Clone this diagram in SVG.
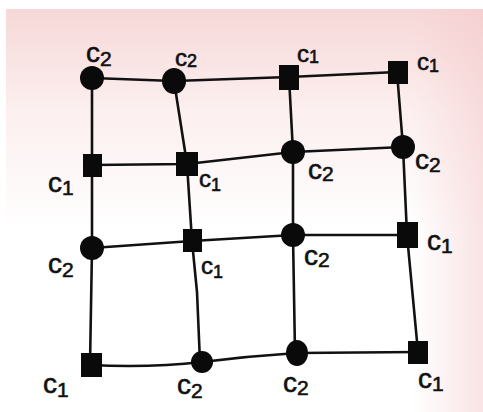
<svg xmlns="http://www.w3.org/2000/svg" width="483" height="412" viewBox="0 0 483 412">
<defs>
<linearGradient id="bgv" x1="0" y1="0" x2="0" y2="1">
<stop offset="0" stop-color="#f7d8d8"/>
<stop offset="0.25" stop-color="#fcefef"/>
<stop offset="0.55" stop-color="#ffffff"/>
<stop offset="1" stop-color="#ffffff"/>
</linearGradient>
<linearGradient id="bgh" x1="0" y1="0" x2="1" y2="0">
<stop offset="0.85" stop-color="#f4c8ca" stop-opacity="0"/>
<stop offset="1" stop-color="#f4c8ca" stop-opacity="0.5"/>
</linearGradient>
<style>
.e{stroke:#111;stroke-width:2.6;fill:none;stroke-linecap:round}
.n{fill:#0a0a0a}
.t{font-family:"Liberation Sans",Arial,sans-serif;font-size:28px;fill:#111;stroke:#111;stroke-width:0.6}
.s{font-size:21px}
.m{font-size:24px}
.ms{font-size:18px}
</style>
</defs>
<rect width="483" height="412" fill="#ffffff"/>
<rect x="6" y="9" width="477" height="403" fill="url(#bgv)"/>
<rect x="6" y="9" width="477" height="403" fill="url(#bgh)"/>
<g id="edges">
<path class="e" d="M92 78 L174 81 L289 77 L397 72"/>
<path class="e" d="M92 165 L187 164 L293 152 L403 147"/>
<path class="e" d="M92 248 L192 241 L293 235 L407 235"/>
<path class="e" d="M90 365 Q150 368 202 362 Q250 356 297 353 L418 352"/>
<path class="e" d="M92 78 L92 165 L92 248 L90 365"/>
<path class="e" d="M174 81 L187 164 L192 241 L197 292 L200 362"/>
<path class="e" d="M289 77 L293 152 L293 235 L295 353"/>
<path class="e" d="M397 72 L403 147 L407 235 L418 352"/>
</g>
<g id="n11"><circle class="n" cx="92" cy="78" r="12"/><text class="t" x="86" y="62">c<tspan class="s" dy="4">2</tspan></text></g>
<g id="n12"><ellipse class="n" cx="174" cy="81" rx="12" ry="13"/><text class="t m" x="175" y="66">c<tspan class="ms" dy="1">2</tspan></text></g>
<g id="n13"><rect class="n" x="279" y="65" width="20" height="25"/><text class="t m" x="297" y="62">c<tspan class="ms" dy="1">1</tspan></text></g>
<g id="n14"><rect class="n" x="388" y="61" width="20" height="23"/><text class="t m" x="417" y="70">c<tspan class="ms" dy="2">1</tspan></text></g>
<g id="n21"><rect class="n" x="83" y="154" width="19" height="23"/><text class="t" x="48" y="192">c<tspan class="s" dy="3">1</tspan></text></g>
<g id="n22"><rect class="n" x="176" y="152" width="22" height="24"/><text class="t m" x="199" y="187">c<tspan class="ms" dy="4">1</tspan></text></g>
<g id="n23"><circle class="n" cx="293" cy="152" r="12"/><text class="t" x="308" y="179">c<tspan class="s" dy="2">2</tspan></text></g>
<g id="n24"><circle class="n" cx="403" cy="147" r="12"/><text class="t" x="415" y="169">c<tspan class="s" dy="3">2</tspan></text></g>
<g id="n31"><circle class="n" cx="92" cy="248" r="12"/><text class="t" x="48" y="273">c<tspan class="s" dy="4">2</tspan></text></g>
<g id="n32"><rect class="n" x="183" y="229" width="19" height="23"/><text class="t m" x="201" y="274">c<tspan class="ms" dy="4">1</tspan></text></g>
<g id="n33"><circle class="n" cx="293" cy="235" r="12"/><text class="t" x="304" y="265">c<tspan class="s" dy="2">2</tspan></text></g>
<g id="n34"><rect class="n" x="397" y="222" width="21" height="26"/><text class="t" x="427" y="250">c<tspan class="s" dy="3">1</tspan></text></g>
<g id="n41"><rect class="n" x="81" y="353" width="21" height="24"/><text class="t" x="43" y="393">c<tspan class="s" dy="4">1</tspan></text></g>
<g id="n42"><circle class="n" cx="202" cy="362" r="11"/><text class="t" x="177" y="394">c<tspan class="s" dy="4">2</tspan></text></g>
<g id="n43"><ellipse class="n" cx="297" cy="353" rx="11" ry="13"/><text class="t" x="283" y="392">c<tspan class="s" dy="3">2</tspan></text></g>
<g id="n44"><rect class="n" x="408" y="341" width="20" height="23"/><text class="t" x="418" y="388">c<tspan class="s" dy="3">1</tspan></text></g>
</svg>
